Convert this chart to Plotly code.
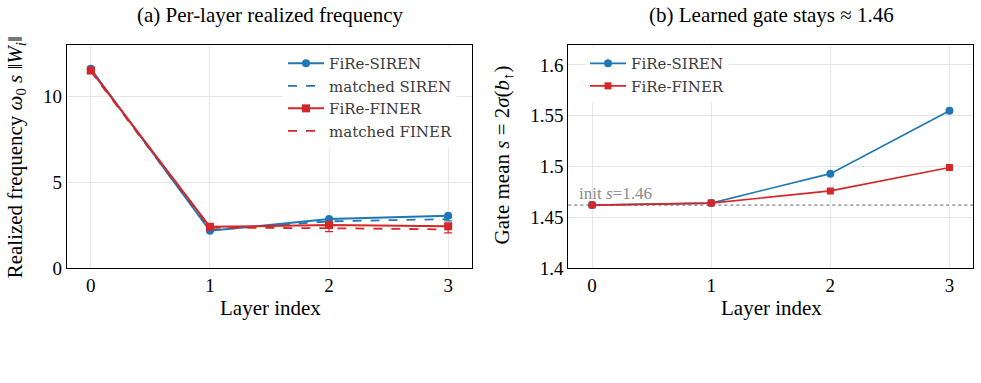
import plotly.graph_objects as go

layers = [0, 1, 2, 3]

# Panel (a): realized frequency
fire_siren_freq = [11.6, 2.17, 2.85, 3.04]
matched_siren_freq = [11.5, 2.22, 2.72, 2.85]
matched_siren_err = [0.08, 0.08, 0.10, 0.10]
fire_finer_freq = [11.5, 2.4, 2.5, 2.43]
matched_finer_freq = [11.45, 2.35, 2.32, 2.25]
matched_finer_err = [0.10, 0.12, 0.2, 0.2]

# Panel (b): gate mean
fire_siren_gate = [1.462, 1.464, 1.493, 1.555]
fire_finer_gate = [1.462, 1.464, 1.476, 1.499]
init_gate = 1.462

BLUE = "#1f77b4"
RED = "#d62728"
FONT = "Liberation Serif"
LEG_FONT = "DejaVu Serif"
W, H = 981, 383

fig = go.Figure()

fig.add_trace(go.Scatter(x=layers, y=fire_siren_freq, name="FiRe-SIREN", mode="lines+markers",
                         line=dict(color=BLUE, width=2), marker=dict(symbol="circle", size=8, color=BLUE),
                         xaxis="x", yaxis="y", legend="legend"))
fig.add_trace(go.Scatter(x=layers, y=matched_siren_freq, name="matched SIREN", mode="lines",
                         line=dict(color=BLUE, width=1.8, dash="dash"),
                         error_y=dict(type="data", array=matched_siren_err, color=BLUE, thickness=1.2, width=4),
                         xaxis="x", yaxis="y", legend="legend"))
fig.add_trace(go.Scatter(x=layers, y=fire_finer_freq, name="FiRe-FINER", mode="lines+markers",
                         line=dict(color=RED, width=2), marker=dict(symbol="square", size=8, color=RED),
                         xaxis="x", yaxis="y", legend="legend"))
fig.add_trace(go.Scatter(x=layers, y=matched_finer_freq, name="matched FINER", mode="lines",
                         line=dict(color=RED, width=1.8, dash="dash"),
                         error_y=dict(type="data", array=matched_finer_err, color=RED, thickness=1.2, width=4),
                         xaxis="x", yaxis="y", legend="legend"))

fig.add_trace(go.Scatter(x=layers, y=fire_siren_gate, name="FiRe-SIREN", mode="lines+markers",
                         line=dict(color=BLUE, width=1.6), marker=dict(symbol="circle", size=8, color=BLUE),
                         xaxis="x2", yaxis="y2", legend="legend2"))
fig.add_trace(go.Scatter(x=layers, y=fire_finer_gate, name="FiRe-FINER", mode="lines+markers",
                         line=dict(color=RED, width=1.6), marker=dict(symbol="square", size=7, color=RED),
                         xaxis="x2", yaxis="y2", legend="legend2"))

fig.add_shape(type="line", xref="x2 domain", yref="y2", x0=0, x1=1, y0=init_gate, y1=init_gate,
              line=dict(color="#808080", width=1.3, dash="dot"), layer="below")

axis_common = dict(showgrid=True, gridcolor="#e6e6e6", gridwidth=1, zeroline=False,
                   showline=True, linecolor="black", linewidth=1.2, mirror=True,
                   ticks="", tickfont=dict(family=FONT, size=19, color="black"))

fig.update_layout(
    width=W, height=H, margin=dict(l=0, r=0, t=0, b=0),
    paper_bgcolor="white", plot_bgcolor="white", showlegend=True,
    xaxis=dict(domain=[67 / W, 472 / W], anchor="y", range=[-0.2, 3.2], tickvals=layers, **axis_common),
    yaxis=dict(domain=[1 - 276 / H, 1 - 46 / H], anchor="x", range=[0, 13], tickvals=[0, 5, 10], **axis_common),
    xaxis2=dict(domain=[568.3 / W, 973.3 / W], anchor="y2", range=[-0.2, 3.2], tickvals=layers, **axis_common),
    yaxis2=dict(domain=[1 - 276 / H, 1 - 46 / H], anchor="x2", range=[1.4, 1.62],
                tickvals=[1.4, 1.45, 1.5, 1.55, 1.6], ticktext=["1.4", "1.45", "1.5", "1.55", "1.6"], **axis_common),
    legend=dict(x=283 / W, y=1 - 48.5 / H, xanchor="left", yanchor="top", bgcolor="white",
                font=dict(family=LEG_FONT, size=15, color="#3a3a3a"), tracegroupgap=0, itemwidth=36),
    legend2=dict(x=585 / W, y=1 - 48.5 / H, xanchor="left", yanchor="top", bgcolor="white",
                 font=dict(family=LEG_FONT, size=15, color="#3a3a3a"), tracegroupgap=0, itemwidth=36),
)

def paper_text(text, x, y, size, angle=0, color="black"):
    return dict(text=text, x=x / W, y=1 - y / H, xref="paper", yref="paper", xanchor="center",
                yanchor="middle", textangle=angle, showarrow=False,
                font=dict(family=FONT, size=size, color=color))

ann = [
    paper_text("(a) Per-layer realized frequency", 270, 15, 21),
    paper_text("(b) Learned gate stays ≈ 1.46", 771, 15, 21),
    paper_text("Layer index", 270, 317, 21),
    paper_text("Layer index", 771, 317, 21),
    paper_text("Realized frequency <i>ω</i><sub>0</sub> <i>s</i> ‖<i>W<sub>i</sub></i>‖", 16, 162, 21, -90),
    paper_text("Gate mean <i>s</i> = 2<i>σ</i>(<i>b</i><sub>↑</sub>)", 503, 160, 21, -90),
    dict(text="init <i>s</i>=1.46", x=-0.13, y=1.4736, xref="x2", yref="y2", xanchor="left",
         yanchor="middle", showarrow=False, font=dict(family=FONT, size=17, color="#8c8c8c")),
]
fig.update_layout(annotations=ann)

fig.write_html("out.html")
